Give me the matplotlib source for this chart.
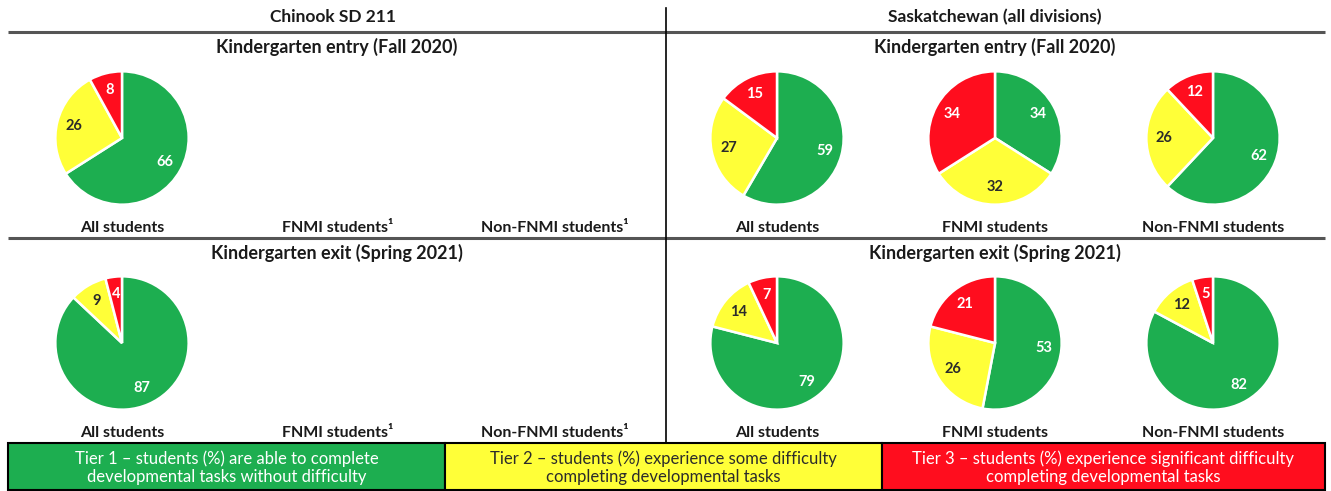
import numpy as np
import matplotlib
matplotlib.use("Agg")
import matplotlib.pyplot as plt
from matplotlib.patches import Rectangle

plt.rcParams['font.family'] = ['Lato', 'DejaVu Sans']

# ---------------- data ----------------
tiers = ["Tier 1", "Tier 2", "Tier 3"]
tier_colors = ["#1DAE50", "#FFFF38", "#FF0D1E"]
tier_text_colors = ["white", "#2b2b2b", "white"]

regions = ["Chinook SD 211", "Saskatchewan (all divisions)"]
periods = ["Kindergarten entry (Fall 2020)", "Kindergarten exit (Spring 2021)"]
groups_chinook = ["All students", "FNMI students\u00b9", "Non-FNMI students\u00b9"]
groups_sask = ["All students", "FNMI students", "Non-FNMI students"]

# values: [Tier 1, Tier 2, Tier 3]; None = not reported
chinook_entry_all = [66, 26, 8]
chinook_exit_all = [87, 9, 4]
sask_entry_all = [59, 27, 15]
sask_entry_fnmi = [34, 32, 34]
sask_entry_non = [62, 26, 12]
sask_exit_all = [79, 14, 7]
sask_exit_fnmi = [53, 26, 21]
sask_exit_non = [82, 12, 5]

legend_texts = [
    "Tier 1 \u2013 students (%) are able to complete\ndevelopmental tasks without difficulty",
    "Tier 2 \u2013 students (%) experience some difficulty\ncompleting developmental tasks",
    "Tier 3 \u2013 students (%) experience significant difficulty\ncompleting developmental tasks",
]

panels = [
    (0, 0, [chinook_entry_all, None, None]),
    (1, 0, [sask_entry_all, sask_entry_fnmi, sask_entry_non]),
    (0, 1, [chinook_exit_all, None, None]),
    (1, 1, [sask_exit_all, sask_exit_fnmi, sask_exit_non]),
]

# ---------------- layout (pixels) ----------------
W, H = 1331, 491
fig = plt.figure(figsize=(W / 100, H / 100), dpi=100)
bg = fig.add_axes([0, 0, 1, 1])
bg.set_xlim(0, W)
bg.set_ylim(H, 0)
bg.axis('off')

slot_x = [[122, 338, 555], [777, 995, 1213]]
region_cx = [333, 995]
period_cx = [337, 995]
pie_cy = [138, 343]
period_y = [47, 253]
label_y = [228, 433]
R = 68

dark = "#1a1a1a"
for i, name in enumerate(regions):
    bg.text(region_cx[i], 17, name, ha='center', va='center', fontsize=12.5,
            fontweight='bold', color=dark)
bg.plot([8, 1325], [32, 32], color="#555555", lw=2.2, solid_capstyle='butt')
bg.plot([8, 1325], [238, 238], color="#555555", lw=2.2, solid_capstyle='butt')
bg.plot([666, 666], [8, 443], color="black", lw=1.2)

for (ri, pi, series) in panels:
    bg.text(period_cx[ri], period_y[pi], periods[pi], ha='center', va='center',
            fontsize=13, fontweight='bold', color=dark)
    glabels = groups_chinook if ri == 0 else groups_sask
    for gi, vals in enumerate(series):
        cx = slot_x[ri][gi]
        cy = pie_cy[pi]
        bg.text(cx, label_y[pi], glabels[gi], ha='center', va='center',
                fontsize=11.5, fontweight='bold', color=dark)
        if vals is None:
            continue
        ax = fig.add_axes([(cx - R) / W, 1 - (cy + R) / H, 2 * R / W, 2 * R / H])
        wedges, _ = ax.pie(vals, colors=tier_colors, startangle=90, counterclock=False,
                           wedgeprops=dict(edgecolor='white', linewidth=1.8))
        ax.set_xlim(-1.02, 1.02)
        ax.set_ylim(-1.02, 1.02)
        ax.set_aspect('equal')
        ax.axis('off')
        for k, w in enumerate(wedges):
            ang = np.deg2rad((w.theta1 + w.theta2) / 2)
            ax.text(0.74 * np.cos(ang), 0.74 * np.sin(ang), str(vals[k]),
                    ha='center', va='center', fontsize=10.5, fontweight='bold',
                    color=tier_text_colors[k])

box_x = [8, 445, 882, 1325]
for k in range(3):
    x0, x1 = box_x[k], box_x[k + 1]
    bg.add_patch(Rectangle((x0, 443), x1 - x0, 47, facecolor=tier_colors[k],
                           edgecolor='black', lw=1.5))
    bg.text((x0 + x1) / 2, 468, legend_texts[k], ha='center', va='center',
            fontsize=12, color=tier_text_colors[k], linespacing=1.15)

fig.savefig("out.png", dpi=100, facecolor='white')
